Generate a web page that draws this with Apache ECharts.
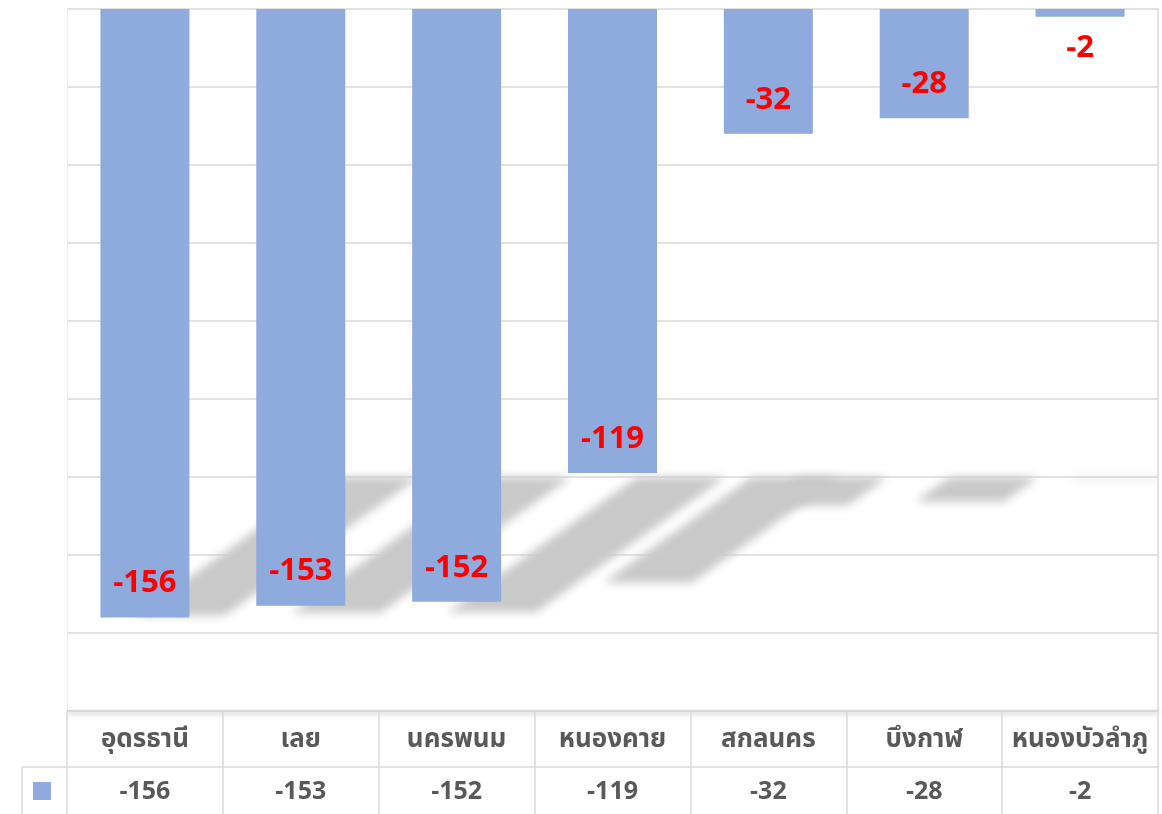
<!DOCTYPE html>
<html>
<head>
<meta charset="utf-8">
<script src="https://cdn.jsdelivr.net/npm/echarts@6/dist/echarts.min.js"></script>
<style>
html,body{margin:0;padding:0;background:#fff;}
#c{width:1162px;height:814px;}
</style>
</head>
<body>
<div id="c"></div>
<script>
var categories = ['อุดรธานี', 'เลย', 'นครพนม', 'หนองคาย', 'สกลนคร', 'บึงกาฬ', 'หนองบัวลำภู'];
var values = [-156, -153, -152, -119, -32, -28, -2];
var yTicks = { min: -180, max: 0, interval: 20 };

var FONT = '"Noto Sans Thai", "Noto Sans", "DejaVu Sans", sans-serif';
var BAR_COLOR = '#8faadc';
var LINE = '#d9d9d9';

var chart = echarts.init(document.getElementById('c'));

var barData = values.map(function (v) {
  var item = { value: v };
  if (Math.abs(v) < 10) {
    item.label = { position: 'bottom', distance: 18 };
  }
  return item;
});

var SHIFT = 4000;

var option = {
  animation: false,
  grid: { left: 67, right: 4, top: 9, bottom: 103, containLabel: false },
  legend: {
    show: true,
    left: 28, top: 777,
    itemWidth: 18, itemHeight: 18,
    icon: 'rect',
    formatter: function () { return ''; },
    data: [{ name: 'value', itemStyle: { color: BAR_COLOR } }],
    selectedMode: false
  },
  xAxis: [
    {
      type: 'category',
      data: categories,
      position: 'bottom',
      axisLine: { show: true, onZero: false, lineStyle: { color: LINE, width: 1.5, shadowColor: 'rgba(0,0,0,0.35)', shadowBlur: 5, shadowOffsetY: 2 } },
      axisTick: { show: true, length: 103, lineStyle: { color: LINE, width: 1.5 } },
      axisLabel: { interval: 0, margin: 18, fontSize: 26, fontWeight: 'bold', color: '#595959', fontFamily: FONT },
      splitLine: { show: false }
    },
    {
      type: 'category',
      data: values.map(function (v) { return String(v); }),
      position: 'bottom',
      offset: 56,
      axisLine: { show: true, onZero: false, lineStyle: { color: LINE, width: 1.5 } },
      axisTick: { show: false },
      axisLabel: { interval: 0, margin: 14, fontSize: 25, fontWeight: 'bold', color: '#595959', fontFamily: FONT },
      splitLine: { show: false }
    }
  ],
  yAxis: [
    {
      type: 'value',
      min: yTicks.min, max: yTicks.max, interval: yTicks.interval,
      axisLabel: { show: false },
      axisTick: { show: false },
      axisLine: { show: true, onZero: false, lineStyle: { color: '#efefef', width: 1 } },
      splitLine: { show: true, lineStyle: { color: LINE, width: 1.5 } }
    },
    {
      type: 'value',
      position: 'right',
      min: yTicks.min, max: yTicks.max, interval: yTicks.interval,
      axisLabel: { show: false },
      axisTick: { show: false },
      axisLine: { show: true, onZero: false, lineStyle: { color: LINE, width: 1.5 } },
      splitLine: { show: false }
    }
  ],
  graphic: [
    { type: 'line', shape: { x1: 22, y1: 767, x2: 67, y2: 767 }, style: { stroke: LINE, lineWidth: 1.5 } },
    { type: 'line', shape: { x1: 22, y1: 767, x2: 22, y2: 814 }, style: { stroke: LINE, lineWidth: 1.5 } }
  ],
  series: [
    {
      type: 'custom',
      name: 'shadow',
      xAxisIndex: 0, yAxisIndex: 0,
      clip: true,
      silent: true,
      z: 1,
      data: values.map(function (v, i) { return [i, v]; }),
      renderItem: function (params, api) {
        var i = api.value(0), v = api.value(1);
        var base = api.coord([i, 0]);
        var end = api.coord([i, v]);
        var floor = api.coord([i, -120]);
        var bw = api.size([1, 0])[0] * 0.571;
        var L = end[1] - base[1];
        var yTop = floor[1];
        var yBot = yTop + 0.228 * L;
        var s0 = 35, sTop = 35 + 0.32 * L;
        var xl = base[0] - bw / 2 - SHIFT, xr = base[0] + bw / 2 - SHIFT;
        return {
          type: 'polygon',
          shape: { points: [[xl + sTop, yTop], [xr + sTop, yTop], [xr + s0, yBot], [xl + s0, yBot]] },
          style: {
            fill: '#c9c9c9',
            shadowColor: '#c9c9c9',
            shadowBlur: 10,
            shadowOffsetX: SHIFT,
            shadowOffsetY: 0,
            blend: 'darken'
          }
        };
      }
    },
    {
      type: 'bar',
      name: 'value',
      xAxisIndex: 0, yAxisIndex: 0,
      z: 3,
      barWidth: '57.1%',
      itemStyle: { color: BAR_COLOR },
      data: barData,
      label: {
        show: true,
        position: 'insideBottom',
        distance: 16,
        color: '#ff0000',
        fontSize: 31,
        fontWeight: 'bold',
        fontFamily: FONT
      }
    }
  ]
};

chart.setOption(option);
</script>
</body>
</html>
